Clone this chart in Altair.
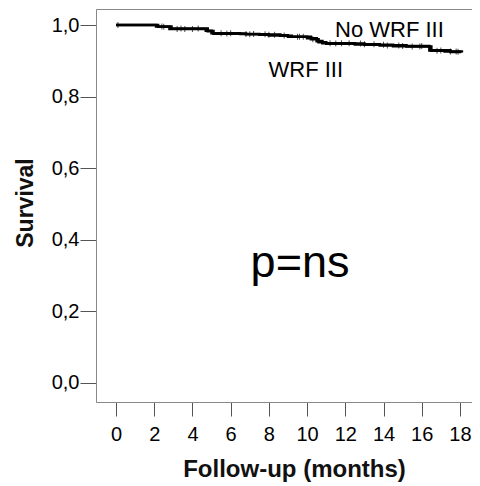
import altair as alt
import pandas as pd

# Kaplan-Meier step curves (time in months, cumulative survival)
no_wrf_time = [0, 2.2, 2.8, 4.7, 5.0, 6.5, 7.5, 8.6, 9.2, 10.0, 10.5, 10.8, 12.5, 13.8, 15.2, 16.5, 17.2, 18.1]
no_wrf_surv = [1.0, 0.995, 0.989, 0.984, 0.977, 0.975, 0.973, 0.970, 0.967, 0.963, 0.955, 0.949, 0.946, 0.943, 0.940, 0.928, 0.926, 0.923]
wrf_time = [0, 2.1, 2.9, 4.8, 5.1, 6.8, 8.0, 9.0, 10.2, 10.6, 11.0, 13.0, 14.5, 16.4, 17.5, 18.0]
wrf_surv = [1.0, 0.996, 0.990, 0.983, 0.976, 0.974, 0.971, 0.967, 0.960, 0.952, 0.948, 0.945, 0.941, 0.929, 0.925, 0.921]

# censoring times (months)
no_wrf_censor = [0.1, 2.5, 3.2, 3.6, 4.0, 5.5, 6.0, 6.8, 7.2, 8.0, 8.3, 9.5, 9.8, 11.2, 11.8,
                 12.2, 13.0, 13.5, 14.2, 14.8, 15.5, 15.9, 16.8, 17.5, 17.8]
wrf_censor = [2.4, 3.4, 4.3, 5.8, 7.0, 7.8, 8.8, 9.6, 10.3, 11.5, 12.8, 14.0, 15.0, 16.0, 17.0, 17.9]

x_ticks = [0, 2, 4, 6, 8, 10, 12, 14, 16, 18]
y_ticks = [0.0, 0.2, 0.4, 0.6, 0.8, 1.0]

group_labels = ["No WRF III", "WRF III"]
group_label_x = [11.46, 7.98]
group_label_y = [0.967, 0.854]
p_text = ["p=ns"]
p_x = [9.63]
p_y = [0.296]


def surv_at(t, times, survs):
    s = survs[0]
    for ti, si in zip(times, survs):
        if ti <= t:
            s = si
    return s


rows = []
for g, ts, ss in [("No WRF III", no_wrf_time, no_wrf_surv), ("WRF III", wrf_time, wrf_surv)]:
    for t, s in zip(ts, ss):
        rows.append({"group": g, "time": t, "surv": s})
df_lines = pd.DataFrame(rows)

crow = []
for g, cs, ts, ss in [("No WRF III", no_wrf_censor, no_wrf_time, no_wrf_surv),
                      ("WRF III", wrf_censor, wrf_time, wrf_surv)]:
    for c in cs:
        crow.append({"group": g, "time": c, "surv": surv_at(c, ts, ss)})
df_censor = pd.DataFrame(crow)

df_lab = pd.DataFrame({"label": group_labels, "x": group_label_x, "y": group_label_y})
df_p = pd.DataFrame({"label": p_text, "x": p_x, "y": p_y})

FONT = "Liberation Sans"
x_scale = alt.Scale(domain=[-1.047, 18.63], nice=False, zero=False)
y_scale = alt.Scale(domain=[-0.0531, 1.0447], nice=False, zero=False)

x_axis = alt.Axis(
    values=x_ticks, format="d", grid=False, tickSize=14, tickColor="#555555",
    domainColor="#888888", labelFontSize=20, labelColor="black", labelPadding=8,
    labelFont=FONT, labelFlush=False,
    title="Follow-up (months)", titleFont=FONT, titleFontSize=24, titleFontWeight="bold",
    titleColor="#111111", titleX=198, titleY=74, titleBaseline="alphabetic", titleAlign="center",
)
y_axis = alt.Axis(
    values=y_ticks, labelExpr="replace(format(datum.value, '.1f'), '.', ',')",
    grid=False, tickSize=16, tickColor="#555555", domainColor="#888888",
    labelFontSize=20, labelColor="black", labelPadding=1, labelFont=FONT,
    title="Survival", titleFont=FONT, titleFontSize=23, titleFontWeight="bold",
    titleColor="#111111", titleX=-71, titleY=193.5, titleAngle=270,
    titleBaseline="middle", titleAlign="center",
)
top_axis = alt.Axis(orient="top", labels=False, ticks=False, domain=True,
                    domainColor="#888888", grid=False, title="")

lines = alt.Chart(df_lines).mark_line(
    interpolate="step-after", color="black", strokeWidth=2.6
).encode(
    x=alt.X("time:Q", scale=x_scale, axis=x_axis),
    y=alt.Y("surv:Q", scale=y_scale, axis=y_axis),
    detail="group:N",
)

censor = alt.Chart(df_censor).mark_tick(
    orient="vertical", color="black", size=6, thickness=1
).encode(
    x=alt.X("time:Q", scale=x_scale, axis=None),
    y=alt.Y("surv:Q", scale=y_scale),
)

labels = alt.Chart(df_lab).mark_text(
    align="left", baseline="alphabetic", fontSize=22, font=FONT, color="black"
).encode(
    x=alt.X("x:Q", scale=x_scale, axis=top_axis),
    y=alt.Y("y:Q", scale=y_scale),
    text="label:N",
)

pval = alt.Chart(df_p).mark_text(
    align="center", baseline="alphabetic", fontSize=45, font=FONT, color="black"
).encode(
    x=alt.X("x:Q", scale=x_scale, axis=None),
    y=alt.Y("y:Q", scale=y_scale),
    text="label:N",
)

chart = alt.layer(lines, censor, labels, pval).resolve_axis(x="independent").properties(
    width=376,
    height=393,
    autosize=alt.AutoSizeParams(type="none"),
    padding={"left": 88, "top": 1, "right": 0, "bottom": 83},
).configure_view(strokeWidth=0).configure(background="white")

chart.save("out.html", embed_options={"renderer": "svg", "actions": False})
